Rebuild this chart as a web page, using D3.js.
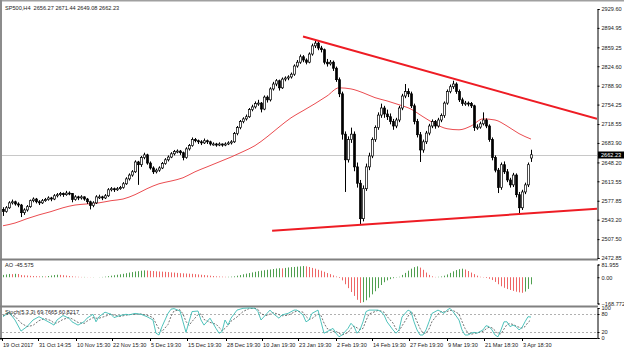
<!DOCTYPE html>
<html>
<head>
<meta charset="utf-8">
<script src="https://cdn.jsdelivr.net/npm/d3@7"></script>
<style>
  body { margin: 0; background: #fff; }
  svg { display: block; font-family: "Liberation Sans", Arial, sans-serif; }
</style>
</head>
<body>
<svg id="chart" width="624" height="352"></svg>
<script>
// Chart header texts
const title = "SP500,H4  2656.27 2671.44 2649.08 2662.23";
const aoTitle = "AO -45.575";
const stochTitle = "Stoch(5,3,3) 69.7665 60.8217";
const lastPrice = 2662.23;

// Candles as [open, high, low, close], one per bar
const ohlc = [
  [2562,2566,2550,2558],[2558,2568,2556,2565],[2565,2577,2563,2574],[2574,2580,2571,2576],[2576,2578,2569,2572],
  [2572,2575,2566,2570],[2570,2572,2548,2556],[2556,2564,2552,2561],[2561,2570,2558,2567],[2567,2580,2565,2578],
  [2578,2584,2575,2581],[2581,2583,2573,2576],[2576,2579,2570,2574],[2574,2581,2572,2578],[2578,2583,2576,2580],
  [2580,2586,2578,2583],[2583,2585,2577,2581],[2581,2590,2579,2587],[2587,2592,2584,2589],[2589,2594,2586,2591],
  [2591,2593,2585,2589],[2589,2596,2587,2592],[2592,2595,2588,2591],[2591,2592,2575,2580],[2580,2588,2578,2585],
  [2585,2587,2579,2583],[2583,2588,2580,2585],[2585,2586,2578,2581],[2581,2583,2572,2576],[2576,2578,2562,2569],
  [2569,2577,2566,2574],[2574,2588,2572,2585],[2585,2589,2581,2585],[2585,2587,2579,2583],[2583,2590,2581,2587],
  [2587,2601,2585,2598],[2598,2603,2595,2600],[2600,2602,2594,2598],[2598,2603,2596,2600],[2600,2605,2598,2602],
  [2602,2612,2600,2609],[2609,2621,2607,2618],[2618,2628,2615,2625],[2625,2634,2622,2631],[2631,2652,2629,2649],
  [2649,2651,2607,2644],[2644,2660,2640,2657],[2657,2666,2654,2662],[2662,2664,2644,2647],[2647,2650,2635,2638],
  [2638,2641,2627,2631],[2631,2637,2628,2634],[2634,2641,2631,2638],[2638,2649,2636,2646],[2646,2656,2644,2653],
  [2653,2661,2650,2658],[2658,2667,2656,2664],[2664,2671,2661,2668],[2668,2672,2665,2669],[2669,2671,2662,2666],
  [2666,2668,2652,2657],[2657,2676,2655,2673],[2673,2682,2670,2679],[2679,2694,2677,2690],[2690,2693,2685,2688],
  [2688,2690,2682,2686],[2686,2689,2680,2684],[2684,2692,2682,2688],[2688,2690,2682,2686],[2686,2688,2679,2682],
  [2682,2685,2679,2682],[2682,2684,2677,2680],[2680,2685,2678,2682],[2682,2683,2677,2680],[2680,2685,2678,2682],
  [2682,2687,2680,2684],[2684,2689,2681,2686],[2686,2704,2684,2701],[2701,2715,2698,2712],[2712,2726,2709,2723],
  [2723,2731,2720,2728],[2728,2736,2725,2732],[2732,2748,2730,2745],[2745,2754,2742,2750],[2750,2760,2747,2756],
  [2756,2763,2752,2757],[2757,2759,2740,2746],[2746,2771,2744,2768],[2768,2771,2758,2763],[2763,2786,2760,2783],
  [2783,2796,2780,2792],[2792,2801,2788,2798],[2798,2800,2780,2785],[2785,2804,2783,2801],[2801,2806,2797,2803],
  [2803,2808,2799,2805],[2805,2813,2802,2810],[2810,2828,2807,2825],[2825,2836,2822,2832],[2832,2846,2829,2842],
  [2842,2845,2832,2836],[2836,2839,2828,2832],[2832,2850,2830,2847],[2847,2866,2844,2862],[2862,2873,2858,2867],
  [2867,2870,2854,2858],[2858,2862,2850,2855],[2855,2857,2828,2832],[2832,2838,2824,2829],[2829,2836,2826,2832],
  [2832,2835,2816,2821],[2821,2824,2796,2800],[2800,2804,2768,2774],[2774,2778,2690,2700],[2700,2705,2594,2653],
  [2653,2696,2648,2690],[2690,2712,2684,2700],[2700,2705,2632,2640],[2640,2648,2602,2610],[2610,2616,2534,2545],
  [2545,2606,2540,2600],[2600,2646,2596,2640],[2640,2666,2634,2660],[2660,2694,2656,2690],[2690,2716,2686,2712],
  [2712,2740,2708,2735],[2735,2756,2730,2748],[2748,2752,2730,2737],[2737,2745,2726,2732],[2732,2738,2718,2723],
  [2723,2728,2708,2715],[2715,2730,2711,2726],[2726,2752,2722,2748],[2748,2774,2744,2770],[2770,2792,2766,2778],
  [2778,2784,2768,2774],[2774,2778,2748,2752],[2752,2756,2718,2723],[2723,2728,2694,2699],[2699,2704,2649,2671],
  [2671,2690,2666,2686],[2686,2706,2682,2702],[2702,2719,2698,2715],[2715,2727,2711,2723],[2723,2726,2710,2715],
  [2715,2730,2712,2726],[2726,2738,2722,2734],[2734,2760,2730,2757],[2757,2782,2754,2778],[2778,2791,2775,2787],
  [2787,2798,2783,2792],[2792,2795,2774,2778],[2778,2782,2759,2763],[2763,2767,2752,2756],[2756,2761,2752,2757],
  [2757,2760,2751,2756],[2756,2759,2748,2752],[2752,2754,2706,2712],[2712,2718,2708,2713],[2713,2723,2710,2719],
  [2719,2740,2716,2726],[2726,2729,2711,2715],[2715,2718,2686,2690],[2690,2694,2652,2657],[2657,2661,2630,2634],
  [2634,2638,2592,2602],[2602,2648,2598,2644],[2644,2650,2627,2631],[2631,2636,2612,2616],[2616,2620,2602,2607],
  [2607,2629,2603,2625],[2625,2628,2584,2589],[2589,2594,2553,2565],[2565,2598,2561,2594],[2594,2611,2590,2607],
  [2607,2648,2603,2644],[2656.27,2671.44,2649.08,2662.23]
];

// Moving average as [bar, value]
const movingAvg = [
  [0,2532],[4,2537],[8,2545],[12,2552],[16,2558],[20,2565],[24,2570],[28,2572],[32,2574],[36,2578],
  [40,2581],[44,2589],[48,2600],[52,2609],[56,2614],[60,2620],[64,2631],[68,2640],[72,2649],[76,2658],
  [80,2668],[84,2679],[88,2695],[92,2713],[96,2730],[100,2743],[104,2756],[108,2770],[112,2785],[116,2783],
  [120,2776],[124,2767],[128,2761],[132,2754],[136,2746],[140,2732],[144,2719],[148,2710],[152,2708],[156,2715],
  [160,2728],[164,2726],[168,2715],[172,2701],[176,2691]
];

// Trend lines, two [bar, price] anchors each
const upperTrend = [[100, 2879], [198, 2728]];
const lowerTrend = [[89.7, 2523], [198, 2563]];

// Right price scale
const priceTicks = [2929.60, 2894.95, 2859.25, 2824.60, 2788.90, 2754.25, 2718.55, 2683.90,
  2648.20, 2613.55, 2577.85, 2543.20, 2507.50, 2472.85];

// Time axis
const timeLabels = ["19 Oct 2017", "31 Oct 14:35", "10 Nov 15:30", "22 Nov 15:30", "5 Dec 19:30",
  "15 Dec 19:30", "28 Dec 19:30", "10 Jan 19:30", "23 Jan 19:30", "2 Feb 19:30", "14 Feb 19:30",
  "27 Feb 19:30", "9 Mar 19:30", "21 Mar 18:30", "3 Apr 18:30"];
const timeBars = [0, 12, 24.7, 36.7, 49.3, 61.7, 74.7, 86.7, 98.7, 111.3, 123.3, 135.7, 148.3, 160.7, 173.3];

// Awesome Oscillator, one per bar
const aoValues = [
  15,18,21,20,22,21, 14,12,11,9,8, 7,6,6,5, 8,11,14,16, 15,13,11,8,6,4,
  3,2,2,1,-1,-1,0,1,2, 4,7,10,13,16, 19,22,26,30,33,37,39,42,44,
  43,41,40,38,37,36,35,33,31,30,28,26,25,24, 23,22,20,18,16, 14,12,10,8,6,5,
  4,3,3,4,6, 10,14,19,23,27, 31,35,39,42,45,48,50, 53,56,58,57,60,63,65,66,68,70,72,70,
  66,60,55,48,42,35,27,20,12, 5,-5,-20, -45,-70,-95,-120,-145,-165,
  -160,-148,-130,-110,-90,-70,-50,-32, -20,-12,-6,-2,3, 15,28,42,55,65,70, 62,48,30,
  15,6,2,3,5,10,18, 28,38,46,52,55, 50,40,30,20,10, 3,-2,
  -5,-10,-18,-30,-45,-58,-68,-76,-82,-88,-93,-97,-100,-92,-75,-45.575
];
const aoTicks = [81.955, 0, -168.772];

// Stochastic (5,3,3): bar positions, main and signal values
const stochBars = [0,2,4,6,8,10,12,14,16,17,18,20,22,23,25,27,28,30,31,32,34,36,37,39,41,42,44,46,48,50,
  51,52,53,55,56,57,59,60,61,62,63,65,66,67,69,71,72,73,74,75,76,78,80,82,84,85,86,88,89,90,
  92,93,95,97,98,100,101,102,103,105,106,107,108,110,111,112,113,115,116,117,118,119,120,121,122,125,126,127,128,130,
  131,132,133,135,136,137,138,139,140,141,142,143,145,146,147,148,149,150,152,153,154,155,156,157,158,160,161,162,163,164,
  165,166,167,168,169,170,171,172,173,174,175,176];
const stochMain = [71,86,60,23,38,60,71,60,49,43,60,75,66,54,43,54,66,79,54,71,86,79,68,75,79,77,82,79,71,60,
  16,10,38,82,96,98,90,54,19,54,88,90,60,43,66,32,16,21,60,43,66,93,99,100,99,88,60,82,93,82,
  66,77,82,93,93,77,54,60,82,93,54,16,21,32,16,4,10,32,49,38,16,27,54,88,93,93,88,77,54,27,
  16,27,70,93,88,54,27,10,10,27,54,82,93,88,82,93,99,88,60,27,10,10,16,19,16,27,41,38,27,10,
  4,27,54,54,38,43,38,27,35,54,71,69.7665];
const stochSignal = [75,80,72,50,38,42,58,65,58,50,50,62,68,64,52,48,56,68,66,66,72,80,76,72,76,78,79,80,76,68,
  48,30,22,45,72,90,94,80,55,42,55,78,80,62,52,46,36,24,32,42,56,70,88,98,99,95,80,75,80,85,
  78,74,76,86,90,86,72,62,65,80,75,50,32,22,22,16,10,18,32,40,34,28,32,58,80,92,90,86,72,50,
  30,24,40,72,88,78,55,32,16,16,30,55,80,88,87,88,92,92,80,55,32,16,12,15,17,22,30,36,34,25,
  14,14,30,45,48,45,40,36,33,38,52,60.8217];
const stochTicks = [100, 80, 20, 0];
const stochLevels = [80, 20];

// Layout
const svg = d3.select("#chart");
const plotLeft = 2, plotRight = 597;
const mainPanel = {top: 2, bottom: 258};
const aoPanel = {top: 261, bottom: 305};
const stochPanel = {top: 308, bottom: 338};
const fontSize = 5.6;

const x = d3.scaleLinear().domain([0, 198]).range([3, 597]);
const y = d3.scaleLinear().domain([2472.85, 2929.60]).range([258, 9]);
const yAo = d3.scaleLinear().domain([-168.772, 81.955]).range([303.5, 264.5]);
const ySt = d3.scaleLinear().domain([0, 100]).range([338, 308]);

// Window frame
svg.append("rect").attr("width", 624).attr("height", 352).attr("fill", "#fff");
svg.append("rect").attr("x", 0).attr("y", 0).attr("width", 624).attr("height", 1.5).attr("fill", "#a0a0a0");
svg.append("rect").attr("x", 0).attr("y", 0).attr("width", 2).attr("height", 340).attr("fill", "#8c8c8c");

// Clip for each panel
const defs = svg.append("defs");
defs.append("clipPath").attr("id", "clipMain").append("rect")
  .attr("x", plotLeft).attr("y", mainPanel.top).attr("width", plotRight - plotLeft).attr("height", mainPanel.bottom - mainPanel.top);

// Last price line
svg.append("line")
  .attr("x1", plotLeft).attr("x2", plotRight)
  .attr("y1", Math.round(y(lastPrice)) + 0.5).attr("y2", Math.round(y(lastPrice)) + 0.5)
  .attr("stroke", "#c8c8c8").attr("stroke-width", 1);

const mainG = svg.append("g").attr("clip-path", "url(#clipMain)");

// Moving average
mainG.append("path")
  .datum(movingAvg)
  .attr("fill", "none")
  .attr("stroke", "#e8383c")
  .attr("stroke-width", 0.9)
  .attr("d", d3.line().x(d => x(d[0])).y(d => y(d[1])).curve(d3.curveMonotoneX));

// Candles
const candles = mainG.selectAll("g.candle")
  .data(ohlc)
  .enter()
  .append("g")
    .attr("class", "candle");

candles.append("line")
  .attr("x1", (d, i) => Math.round(x(i)) + 0.5)
  .attr("x2", (d, i) => Math.round(x(i)) + 0.5)
  .attr("y1", d => y(d[1]))
  .attr("y2", d => y(d[2]))
  .attr("stroke", "#000")
  .attr("stroke-width", 1);

candles.append("rect")
  .attr("x", (d, i) => Math.round(x(i)) - 0.5)
  .attr("width", 2)
  .attr("y", d => y(Math.max(d[0], d[3])))
  .attr("height", d => Math.max(1, Math.abs(y(d[0]) - y(d[3]))))
  .attr("fill", d => d[3] >= d[0] ? "#fff" : "#000")
  .attr("stroke", "#000")
  .attr("stroke-width", 0.7);

// Trend lines, extended to the price scale
[upperTrend, lowerTrend].forEach(t => {
  mainG.append("line")
    .attr("x1", x(t[0][0])).attr("y1", y(t[0][1]))
    .attr("x2", x(t[1][0])).attr("y2", y(t[1][1]))
    .attr("stroke", "#ee1c24")
    .attr("stroke-width", 2);
});

// Title
svg.append("text")
  .attr("x", 5).attr("y", 10)
  .attr("font-size", fontSize)
  .attr("fill", "#222")
  .attr("xml:space", "preserve")
  .text(title);

// Panel separators
[mainPanel.bottom, aoPanel.bottom].forEach(sy => {
  svg.append("rect")
    .attr("x", 0).attr("y", sy + 0.5).attr("width", plotRight + 1).attr("height", 2)
    .attr("fill", "#808080");
});

// Right price axis
const priceAxis = svg.append("g")
  .attr("transform", `translate(${plotRight + 0.5},0)`)
  .call(d3.axisRight(y).tickValues(priceTicks).tickSize(2).tickPadding(2).tickFormat(d3.format(".2f")));

// AO panel
const aoG = svg.append("g");
aoG.selectAll("line")
  .data(aoValues)
  .enter()
  .append("line")
    .attr("x1", (d, i) => Math.round(x(i)) + 0.5)
    .attr("x2", (d, i) => Math.round(x(i)) + 0.5)
    .attr("y1", yAo(0))
    .attr("y2", d => yAo(d))
    .attr("stroke", (d, i) => (i === 0 || d >= aoValues[i - 1]) ? "#4f9f4f" : "#ee6666")
    .attr("stroke-width", 1);

svg.append("text")
  .attr("x", 5).attr("y", 267)
  .attr("font-size", fontSize).attr("fill", "#222")
  .text(aoTitle);

svg.append("g")
  .attr("transform", `translate(${plotRight + 0.5},0)`)
  .call(d3.axisRight(yAo).tickValues(aoTicks).tickSize(2).tickPadding(2)
    .tickFormat(d => d === 0 ? "0.00" : d3.format(".3f")(d)));

// Stochastic panel
svg.selectAll("line.level")
  .data(stochLevels)
  .enter()
  .append("line")
    .attr("class", "level")
    .attr("x1", plotLeft).attr("x2", plotRight)
    .attr("y1", d => Math.round(ySt(d)) + 0.5)
    .attr("y2", d => Math.round(ySt(d)) + 0.5)
    .attr("stroke", "#b0b0b0")
    .attr("stroke-dasharray", "2,2");

const stochLine = d3.line()
  .x((d, i) => x(stochBars[i]))
  .y(d => ySt(d));

svg.append("path")
  .datum(stochSignal)
  .attr("fill", "none")
  .attr("stroke", "#505050")
  .attr("stroke-width", 0.8)
  .attr("stroke-dasharray", "2,1.5")
  .attr("d", stochLine);

svg.append("path")
  .datum(stochMain)
  .attr("fill", "none")
  .attr("stroke", "#3cbcb4")
  .attr("stroke-width", 0.9)
  .attr("d", stochLine);

svg.append("text")
  .attr("x", 5).attr("y", 314)
  .attr("font-size", fontSize).attr("fill", "#222")
  .text(stochTitle);

svg.append("g")
  .attr("transform", `translate(${plotRight + 0.5},0)`)
  .call(d3.axisRight(ySt).tickValues(stochTicks).tickSize(2).tickPadding(2));

// Time axis
svg.append("line")
  .attr("x1", 0).attr("x2", plotRight + 0.5)
  .attr("y1", stochPanel.bottom + 0.5).attr("y2", stochPanel.bottom + 0.5)
  .attr("stroke", "#000");

const timeG = svg.append("g");
timeG.selectAll("line")
  .data(timeBars)
  .enter()
  .append("line")
    .attr("x1", d => Math.round(x(d)) - 0.5)
    .attr("x2", d => Math.round(x(d)) - 0.5)
    .attr("y1", stochPanel.bottom)
    .attr("y2", stochPanel.bottom + 3)
    .attr("stroke", "#000");
timeG.selectAll("text")
  .data(timeLabels)
  .enter()
  .append("text")
    .attr("x", (d, i) => x(timeBars[i]))
    .attr("y", 347)
    .attr("font-size", fontSize)
    .attr("fill", "#222")
    .text(d => d);

// Style axes like the terminal scale
svg.selectAll(".domain").attr("stroke", "#000");
svg.selectAll(".tick line").attr("stroke", "#000");
svg.selectAll(".tick text").attr("font-size", fontSize).attr("fill", "#222")
  .attr("font-family", "Liberation Sans, Arial, sans-serif");

// Current price marker on the scale
const py = Math.round(y(lastPrice));
svg.append("rect")
  .attr("x", plotRight + 1).attr("y", py - 3.5).attr("width", 26).attr("height", 7)
  .attr("fill", "#000");
svg.append("text")
  .attr("x", plotRight + 4).attr("y", py + 2)
  .attr("font-size", fontSize).attr("fill", "#fff")
  .text(d3.format(".2f")(lastPrice));
</script>
</body>
</html>
